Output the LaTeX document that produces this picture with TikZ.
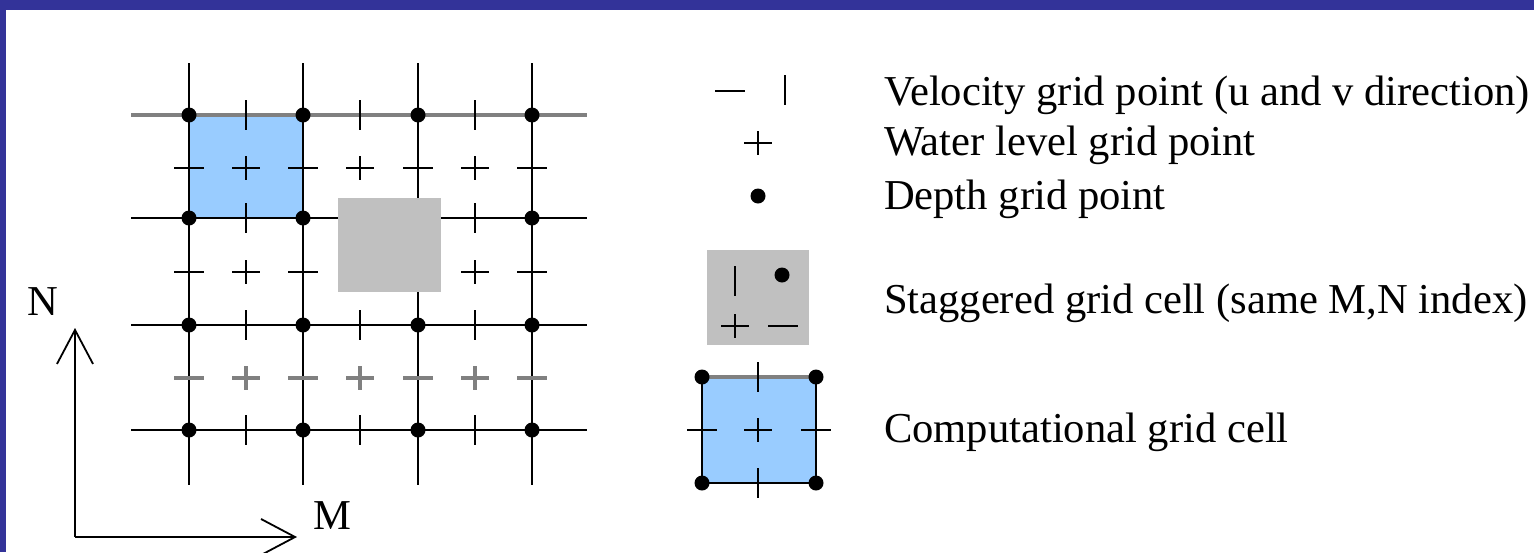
\documentclass[tikz,border=0pt]{standalone}
\usepackage{fontspec}
\setmainfont{Liberation Serif}
\usetikzlibrary{arrows.meta}
\definecolor{frameblue}{HTML}{333399}
\definecolor{cellblue}{HTML}{99CCFF}
\definecolor{stagray}{HTML}{C0C0C0}

\begin{document}
\begin{tikzpicture}[x=0.5pt,y=-0.5pt,line width=1pt,
  dpt/.style={circle,fill=black,inner sep=0pt,minimum size=7.5pt},
  lbl/.style={anchor=base west,inner sep=0pt,font=\fontsize{21.3}{25}\selectfont},
  axlbl/.style={inner sep=0pt,font=\fontsize{21.3}{25}\selectfont},
  axis/.style={-{Straight Barb[length=17pt,width=18pt]},line width=0.9pt},
  faint/.style={gray,line width=1.6pt},
  htick/.pic={\draw (-15,0) -- (15,0);},
  vtick/.pic={\draw (0,-15) -- (0,15);},
  wlev/.pic={\draw (-14,0) -- (14,0) (0,-12) -- (0,12);}]
\useasboundingbox (0,0) rectangle (1534,552);
\fill[frameblue] (0,0) rectangle (1534,10);
\fill[frameblue] (0,0) rectangle (6,552);
% grid
\fill[cellblue] (189,115) rectangle (303,218);
\foreach \x in {189,303,418,532} {
   \draw (\x,63) -- (\x,485);
}
\draw[faint] (131,115) -- (587,115);
\foreach \y in {218,325,430} {
   \draw (131,\y) -- (587,\y);
}
\foreach \y in {115,218,325,430} {
   \foreach \x in {246,360,475} \pic at (\x,\y) {vtick};
   \foreach \x in {189,303,418,532} \node[dpt] (d\x-\y) at (\x,\y) {};
}
\foreach \y/\c in {168/black,272/black,378/faint} {
   \foreach \x in {189,303,418,532} \pic[\c] at (\x,\y) {htick};
   \foreach \x in {246,360,475} \pic[\c] at (\x,\y) {wlev};
}
\fill[stagray] (338,198) rectangle (441,292);
% axes
\coordinate (orig) at (75,537);
\coordinate (ntip) at (75,328);
\coordinate (mtip) at (297,537);
\draw[axis] (orig) -- (ntip);
\draw[axis] (orig) -- (mtip);
\node[axlbl] (nlbl) at (43,302) {N};
\node[axlbl] (mlbl) at (332,516) {M};
% legend
\pic at (730,91) {htick};
\pic at (785,90) {vtick};
\pic at (758,143) {wlev};
\node[dpt] (ldepth) at (758,196) {};
\fill[stagray] (707,250) rectangle (809,345);
\pic at (735,281) {vtick};
\node[dpt] (lsdepth) at (782,275) {};
\pic at (735,326) {wlev};
\pic at (783,326) {htick};
\fill[cellblue] (702,377) rectangle (816,483);
\draw (702,377) -- (702,483) -- (816,483) -- (816,377);
\draw[faint] (702,377) -- (816,377);
\foreach \x/\y in {758/377,758/483} \pic at (\x,\y) {vtick};
\foreach \x/\y in {702/430,816/430} \pic at (\x,\y) {htick};
\pic at (758,430) {wlev};
\foreach \x/\y in {702/377,816/377,702/483,816/483} {
   \node[dpt] (lc\x-\y) at (\x,\y) {};
}
\node[lbl] (tvel) at (883,105) {Velocity grid point (u and v direction)};
\node[lbl] (twat) at (883,155) {Water level grid point};
\node[lbl] (tdep) at (883,209) {Depth grid point};
\node[lbl] (tstag) at (883,313) {Staggered grid cell (same M,N index)};
\node[lbl] (tcomp) at (883,442) {Computational grid cell};
\end{tikzpicture}
\end{document}
